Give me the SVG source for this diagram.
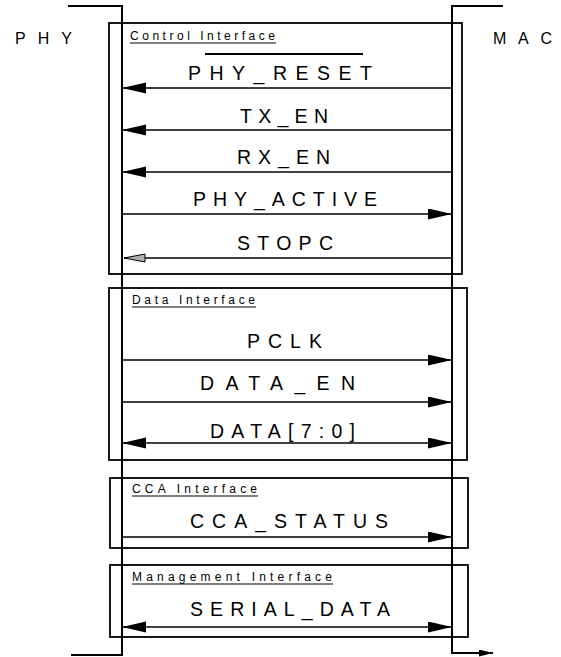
<svg xmlns="http://www.w3.org/2000/svg" width="561" height="657" viewBox="0 0 561 657">
<style>
text{font-family:"Liberation Sans",Arial,sans-serif;fill:#000}
.big{font-size:19.5px}
.side{font-size:16px}
.hdr{font-size:12px}
.ul{stroke:#000;stroke-width:1}
.box{fill:none;stroke:#000;stroke-width:1.8}
.life{fill:none;stroke:#000;stroke-width:2}
.sig{fill:none;stroke:#000;stroke-width:1.5}
</style>
<defs>
<marker id="ah" markerUnits="userSpaceOnUse" markerWidth="26" markerHeight="12" refX="24" refY="5.5" orient="auto-start-reverse" viewBox="0 0 26 12">
<path d="M0,0 L24,5.5 L0,11 z" fill="#000"/>
</marker>
<marker id="ahg" markerUnits="userSpaceOnUse" markerWidth="26" markerHeight="12" refX="22" refY="5" orient="auto" viewBox="0 0 26 12">
<path d="M1,1 L22,5 L1,9 z" fill="#b0b0b0" stroke="#000" stroke-width="1"/>
</marker>
<marker id="ahs" markerUnits="userSpaceOnUse" markerWidth="16" markerHeight="8" refX="14" refY="3.5" orient="auto" viewBox="0 0 16 8">
<path d="M0,0 L14,3.5 L0,7 z" fill="#000"/>
</marker>
</defs>

<g id="phy">
<text class="side" x="15" y="44" textLength="57" lengthAdjust="spacing">PHY</text>
<polyline class="life" points="68,6 122,6 122,655 71,655"/>
</g>

<g id="mac">
<text class="side" x="493" y="44" textLength="59" lengthAdjust="spacing">MAC</text>
<polyline class="life" points="503,6 452,6 452,653 493,653" marker-end="url(#ahs)"/>
</g>

<g id="control-interface">
<rect class="box" x="109" y="23" width="353" height="251"/>
<text class="hdr" x="130" y="40" textLength="145" lengthAdjust="spacing">Control Interface</text>
<line class="ul" x1="130" y1="43" x2="276" y2="43"/>
</g>

<g id="data-interface">
<rect class="box" x="109" y="288" width="358" height="172"/>
<text class="hdr" x="132" y="304" textLength="123" lengthAdjust="spacing">Data Interface</text>
<line class="ul" x1="132" y1="307" x2="256" y2="307"/>
</g>

<g id="cca-interface">
<rect class="box" x="110" y="478" width="358" height="70"/>
<text class="hdr" x="132" y="493" textLength="125" lengthAdjust="spacing">CCA Interface</text>
<line class="ul" x1="132" y1="496" x2="258" y2="496"/>
</g>

<g id="management-interface">
<rect class="box" x="110" y="565" width="358" height="72"/>
<text class="hdr" x="132" y="581" textLength="200" lengthAdjust="spacing">Management Interface</text>
<line class="ul" x1="132" y1="584" x2="333" y2="584"/>
</g>

<g id="connectors">
<line x1="205" y1="54" x2="363" y2="54" stroke="#000" stroke-width="2"/>
<text class="big" x="188" y="80" textLength="184" lengthAdjust="spacing">PHY_RESET</text>
<line class="sig" x1="452" y1="88" x2="122" y2="88" marker-end="url(#ah)"/>
<text class="big" x="240" y="123" textLength="88" lengthAdjust="spacing">TX_EN</text>
<line class="sig" x1="452" y1="130" x2="122" y2="130" marker-end="url(#ah)"/>
<text class="big" x="237" y="164" textLength="93" lengthAdjust="spacing">RX_EN</text>
<line class="sig" x1="452" y1="172" x2="122" y2="172" marker-end="url(#ah)"/>
<text class="big" x="193" y="206" textLength="184" lengthAdjust="spacing">PHY_ACTIVE</text>
<line class="sig" x1="122" y1="214" x2="452" y2="214" marker-end="url(#ah)"/>
<text class="big" x="237" y="250" textLength="96" lengthAdjust="spacing">STOPC</text>
<line class="sig" x1="452" y1="258" x2="124" y2="258" marker-end="url(#ahg)"/>

<text class="big" x="247" y="348" textLength="75" lengthAdjust="spacing">PCLK</text>
<line class="sig" x1="122" y1="360" x2="452" y2="360" marker-end="url(#ah)"/>
<text class="big" x="200" y="390" textLength="155" lengthAdjust="spacing">DATA_EN</text>
<line class="sig" x1="122" y1="402" x2="452" y2="402" marker-end="url(#ah)"/>
<text class="big" x="210" y="438" textLength="145" lengthAdjust="spacing">DATA[7:0]</text>
<line class="sig" x1="122" y1="443" x2="452" y2="443" marker-start="url(#ah)" marker-end="url(#ah)"/>

<text class="big" x="190" y="528" textLength="198" lengthAdjust="spacing">CCA_STATUS</text>
<line class="sig" x1="122" y1="537" x2="452" y2="537" marker-end="url(#ah)"/>

<text class="big" x="190" y="616" textLength="200" lengthAdjust="spacing">SERIAL_DATA</text>
<line class="sig" x1="122" y1="627" x2="452" y2="627" marker-start="url(#ah)" marker-end="url(#ah)"/>
</g>
</svg>
